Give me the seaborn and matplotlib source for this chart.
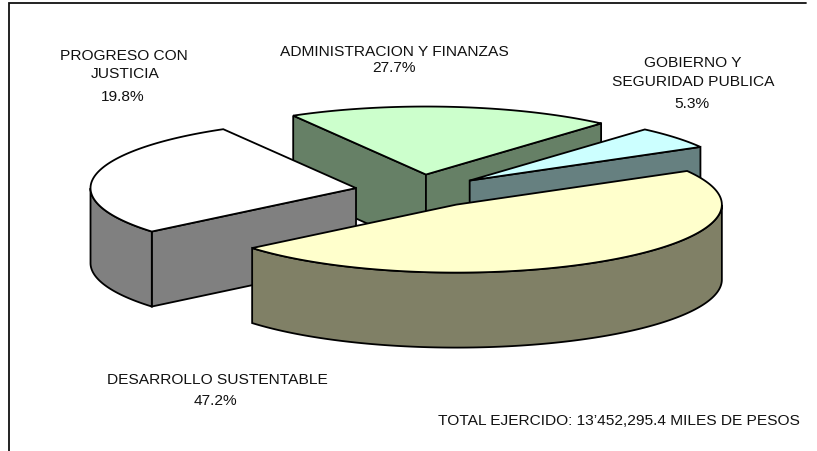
import numpy as np
import matplotlib
matplotlib.use("Agg")
import matplotlib.pyplot as plt
import seaborn as sns

# Slices clockwise from the start angle (as drawn in the reference)
slice_names = ["ADMINISTRACION Y FINANZAS", "GOBIERNO Y SEGURIDAD PUBLICA",
               "DESARROLLO SUSTENTABLE", "PROGRESO CON JUSTICIA"]
drawn_shares = [19.8, 5.3, 47.2, 27.7]
printed_pct = ["27.7%", "5.3%", "47.2%", "19.8%"]
top_colors = ["#CCFFCC", "#CCFFFF", "#FFFFCC", "#FFFFFF"]
side_colors = ["#668066", "#668080", "#808066", "#808080"]
paint_order = [0, 1, 3, 2]
total_note = "TOTAL EJERCIDO: 13\u2019452,295.4 MILES DE PESOS"

START_DEG, RX, RY, DEPTH, EXPLODE = 120.0, 265.5, 68.0, 75.0, 0.2433
CX, CY = 419.6, 192.0

sns.set_theme(style="white")
plt.rcParams["font.family"] = ["Liberation Sans", "DejaVu Sans"]

fig = plt.figure(figsize=(8.17, 4.52), dpi=100, facecolor="white")
ax = fig.add_axes([0, 0, 1, 1])
ax.set_xlim(0, 817)
ax.set_ylim(452, 0)
ax.axis("off")

# outer frame (top and left only are visible)
ax.plot([9, 9, 806], [452, 3.5, 3.5], color="#111111", lw=1.3, solid_joinstyle="miter", zorder=1)


def pt(cx, cy, deg, drop=0.0):
    t = np.radians(deg)
    return cx + RX * np.cos(t), cy - RY * np.sin(t) + drop


def face(xs, ys, color, z):
    ax.fill(xs, ys, facecolor=color, edgecolor="black", lw=1.3, joinstyle="miter", zorder=z)


spans = 360.0 * np.array(drawn_shares) / np.sum(drawn_shares)
starts = START_DEG - np.concatenate([[0], np.cumsum(spans)[:-1]])
ends = starts - spans

z = 2
for i in paint_order:
    a1, a2 = starts[i], ends[i]
    mid = np.radians((a1 + a2) / 2)
    cx = CX + EXPLODE * RX * np.cos(mid)
    cy = CY - EXPLODE * RY * np.sin(mid)
    # radial walls, only the ones that face the viewer
    for edge, normal in ((a1, a1 + 90), (a2, a2 - 90)):
        if np.sin(np.radians(normal)) < 0:
            x0, y0 = pt(cx, cy, edge)
            face([cx, x0, x0, cx], [cy, y0, y0 + DEPTH, cy + DEPTH], side_colors[i], z)
            z += 1
    # outer rim, the part on the front half of the ellipse
    arc = np.linspace(a1, a2, 240)
    front = arc[np.sin(np.radians(arc)) <= 0]
    if front.size:
        xt, yt = pt(cx, cy, front)
        xb, yb = pt(cx, cy, front[::-1], DEPTH)
        face(np.r_[xt, xb], np.r_[yt, yb], side_colors[i], z)
        z += 1
    # top surface
    xa, ya = pt(cx, cy, arc)
    face(np.r_[cx, xa], np.r_[cy, ya], top_colors[i], z)
    z += 1

label_lines = [
    (["ADMINISTRACION Y FINANZAS", printed_pct[0]], [394.5, 394], [52, 68]),
    (["GOBIERNO Y", "SEGURIDAD PUBLICA", printed_pct[1]], [693, 693, 692], [63, 82, 104]),
    (["DESARROLLO SUSTENTABLE", printed_pct[2]], [217, 215], [380, 401]),
    (["PROGRESO CON", "JUSTICIA", printed_pct[3]], [124, 125, 123], [56, 74, 97]),
]
FS = 9.6 * 1.16
for lines, xs, ys in label_lines:
    for s, x, y in zip(lines, xs, ys):
        ax.text(x, y, s, ha="center", va="center", fontsize=FS, color="#111111", zorder=50)
ax.text(618.5, 421, total_note, ha="center", va="center", fontsize=FS, color="#111111", zorder=50)

fig.savefig("out.png", dpi=100, facecolor="white")
